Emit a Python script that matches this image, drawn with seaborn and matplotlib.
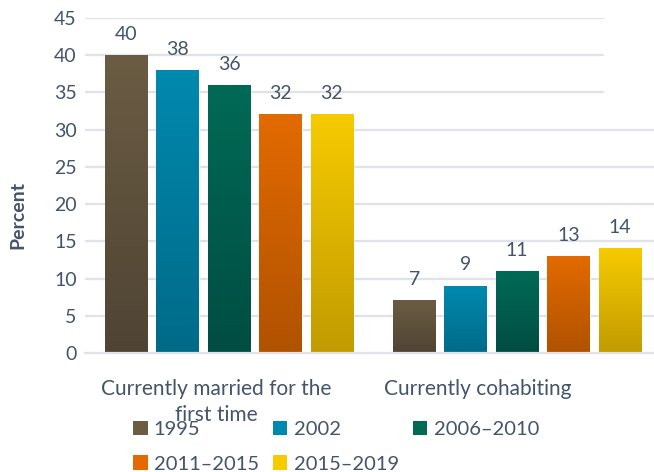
import numpy as np
import pandas as pd
import matplotlib
matplotlib.use("Agg")
import matplotlib.pyplot as plt
import seaborn as sns
from matplotlib.colors import LinearSegmentedColormap
from matplotlib.patches import Patch

# data
categories = ["Currently married for the\nfirst time", "Currently cohabiting"]
periods = ["1995", "2002", "2006\u20132010", "2011\u20132015", "2015\u20132019"]
married = [40, 38, 36, 32, 32]
cohabiting = [7, 9, 11, 13, 14]

# bar colours (top -> bottom of gradient)
top_colors = ["#6b5c43", "#0089ae", "#006a55", "#e36a00", "#f7cb00"]
bottom_colors = ["#4f4434", "#006a88", "#004d42", "#b05200", "#c19b00"]
text_color = "#44546a"
grid_color = "#dfe2e8"

df = pd.DataFrame({
    "category": np.repeat(categories, len(periods)),
    "period": periods * 2,
    "percent": married + cohabiting,
})

sns.set_theme(style="white")
plt.rcParams['font.family'] = ['Lato', 'DejaVu Sans']

fig = plt.figure(figsize=(6.54, 4.72), dpi=100)
ax = fig.add_axes([85/654, 119/472, 576/654, 335/472])

sns.barplot(data=df, x="category", y="percent", hue="period",
            hue_order=periods, palette=top_colors, width=0.893, gap=0.18,
            legend=False, ax=ax, zorder=2)

# vertical gradient on each bar
grad = np.linspace(0, 1, 256).reshape(-1, 1)
for i, bars in enumerate(ax.containers):
    cmap = LinearSegmentedColormap.from_list(f"g{i}", [bottom_colors[i], top_colors[i]])
    for bar in bars:
        x0, y0 = bar.get_xy()
        ax.imshow(grad, extent=[x0, x0 + bar.get_width(), y0, y0 + bar.get_height()],
                  origin="lower", aspect="auto", cmap=cmap, zorder=2.5)
    ax.bar_label(bars, padding=9, fontsize=14, color=text_color)

ax.set_xlim(-0.5, 1.5)
ax.set_ylim(0, 45)

# gridlines (upper ones stop short, as in the original)
for yv in range(5, 50, 5):
    ax.axhline(yv, xmax=0.9 if yv >= 35 else 1.0, color=grid_color, lw=1.6, zorder=0)

sns.despine(ax=ax, left=True)
ax.spines["bottom"].set_color(grid_color)
ax.spines["bottom"].set_linewidth(1.6)

ax.set_yticks(range(0, 50, 5))
ax.tick_params(axis="y", length=0, pad=6, labelsize=14, labelcolor=text_color)
ax.set_xticks([0, 1])
ax.set_xticklabels([])
ax.tick_params(axis="x", which="major", length=0)
ax.set_xticks([-0.5, 0.5, 1.5], minor=True)
ax.tick_params(axis="x", which="minor", length=6, width=1.6, color=grid_color)
ax.set_xlabel("")

# category labels (offset like the original)
for i, (cat, dx) in enumerate(zip(categories, [-12.5, -39.5])):
    ax.annotate(cat, xy=(i, 0), xycoords=("data", "axes fraction"),
                xytext=(dx, -26), textcoords="offset pixels",
                ha="center", va="top", fontsize=15, color=text_color,
                linespacing=1.38, annotation_clip=False)

ax.set_ylabel("Percent", fontsize=14, fontweight="bold", color=text_color)
ax.yaxis.set_label_coords(-0.1024, 0.412)

# legend laid out row-wise: 3 on top, 2 below
order = [0, 3, 1, 4, 2]
handles = [Patch(facecolor=top_colors[k], edgecolor="none") for k in order]
labels = [periods[k] for k in order]
fig.legend(handles, labels, ncol=3, loc="upper left",
           bbox_to_anchor=(133/654, 1 - 421/472), frameon=False,
           fontsize=14.5, labelcolor=text_color, handlelength=0.72,
           handleheight=0.72, handletextpad=0.31, columnspacing=0.7,
           labelspacing=0.85, borderpad=0, borderaxespad=0)

fig.savefig("out.png", dpi=100)
